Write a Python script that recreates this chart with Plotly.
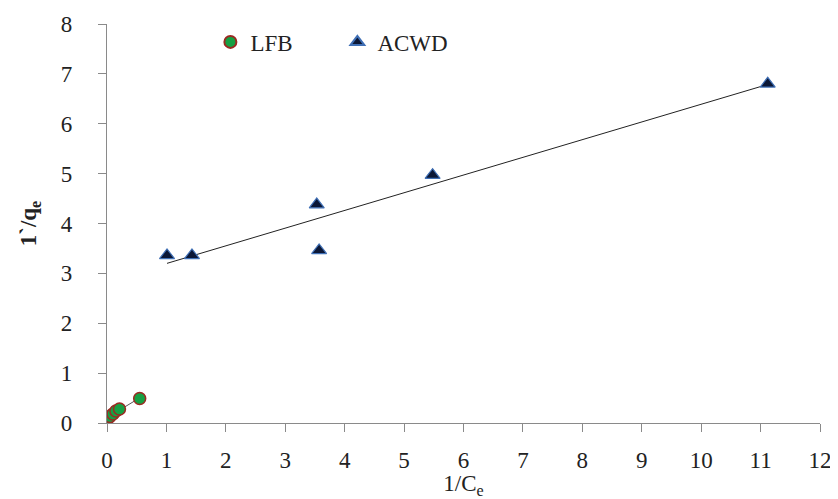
import numpy as np
import plotly.graph_objects as go

# Data
lfb_x = [0.02, 0.05, 0.10, 0.15, 0.21, 0.55]
lfb_y = [0.10, 0.13, 0.18, 0.24, 0.28, 0.49]

acwd_x = [1.01, 1.43, 3.53, 3.57, 5.48, 11.12]
acwd_y = [3.36, 3.36, 4.38, 3.46, 4.97, 6.80]

x_ticks = list(range(0, 13))
y_ticks = list(range(0, 9))

FONT = "Liberation Serif"

def fit_line(xs, ys):
    m, b = np.polyfit(xs, ys, 1)
    xx = np.array([min(xs), max(xs)])
    return xx, m * xx + b

fig = go.Figure()

lx, ly = fit_line(lfb_x, lfb_y)
fig.add_trace(go.Scatter(x=lx, y=ly, mode="lines", line=dict(color="#555555", width=1),
                         showlegend=False, hoverinfo="skip"))
ax, ay = fit_line(acwd_x, acwd_y)
fig.add_trace(go.Scatter(x=ax, y=ay, mode="lines", line=dict(color="#222222", width=1),
                         showlegend=False, hoverinfo="skip"))

fig.add_trace(go.Scatter(
    x=lfb_x, y=lfb_y, mode="markers", name="LFB",
    marker=dict(symbol="circle", size=12, color="#16a043",
                line=dict(color="#9a2a22", width=1.5))))
fig.add_trace(go.Scatter(
    x=acwd_x, y=acwd_y, mode="markers", name="ACWD",
    marker=dict(symbol="triangle-up", size=13, color="#0b1736",
                line=dict(color="#3f6fb5", width=1.2))))

axis_common = dict(
    showgrid=False, zeroline=False, showline=True, linecolor="#8a8a8a", linewidth=1.2,
    ticks="outside", ticklen=8, tickcolor="#8a8a8a", tickwidth=1.2,
    tickfont=dict(family=FONT, size=23, color="#222222"),
    automargin=False,
)

# The page body adds a small offset; the figure is sized to fit the 838x499 window.
fig.update_layout(
    width=830, height=491,
    margin=dict(l=99, r=18, t=16, b=76),
    paper_bgcolor="white", plot_bgcolor="white",
    font=dict(family=FONT, color="#222222"),
    showlegend=True,
    legend=dict(orientation="h", x=0.145, y=0.955, xanchor="left", yanchor="middle",
                font=dict(family=FONT, size=23, color="#222222"),
                bgcolor="rgba(0,0,0,0)", itemwidth=30, tracegroupgap=0,
                entrywidth=82, itemsizing="constant"),
    xaxis=dict(range=[0, 12], tickvals=x_ticks, ticktext=[str(v) for v in x_ticks],
               ticklabelstandoff=8,
               title=dict(text="1/C<sub>e</sub>", font=dict(family=FONT, size=23), standoff=14),
               **axis_common),
    yaxis=dict(range=[0, 8], tickvals=y_ticks, ticktext=[str(v) for v in y_ticks],
               ticklabelstandoff=21,
               title=dict(text="<b>1`/q<sub>e</sub></b>", font=dict(family=FONT, size=23), standoff=17),
               **axis_common),
)

fig.write_html("out.html")
